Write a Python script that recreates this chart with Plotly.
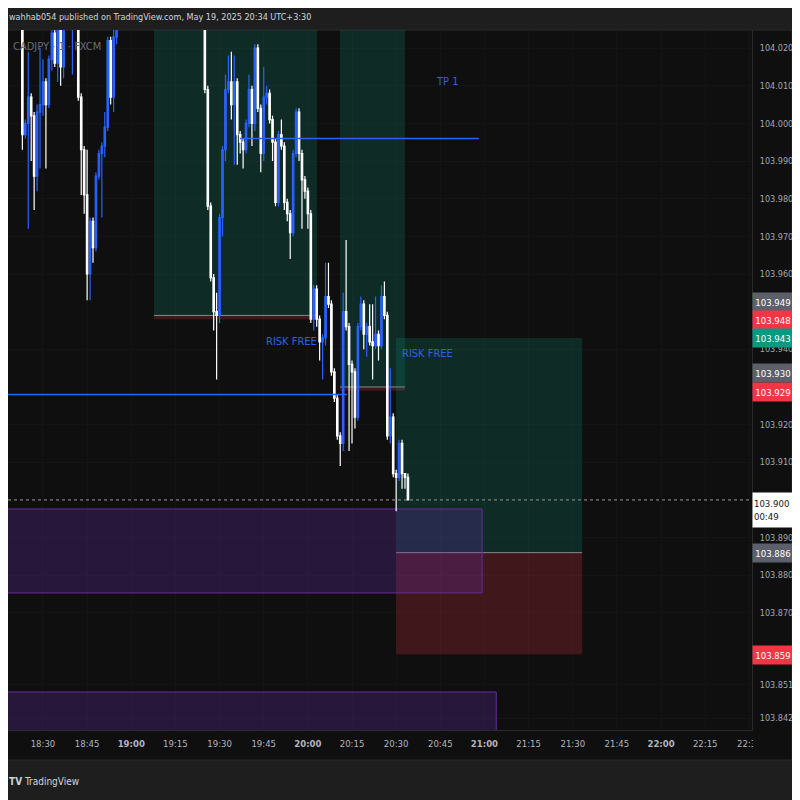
import plotly.graph_objects as go

DAY = "2025-05-19 "

# ---------------- candle data (CADJPY 1-min) ----------------
candle_time = [
    "18:23", "18:24", "18:25", "18:26", "18:27", "18:28", "18:29", "18:30", "18:31", "18:32",
    "18:33", "18:34", "18:35", "18:36", "18:37", "18:40", "18:42", "18:43", "18:44", "18:45",
    "18:46", "18:47", "18:48", "18:49", "18:50", "18:51", "18:52", "18:53", "18:54", "18:55",
    "19:25", "19:26", "19:27", "19:28", "19:29", "19:30", "19:31", "19:32", "19:33", "19:34",
    "19:35", "19:36", "19:37", "19:38", "19:39", "19:40", "19:41", "19:42", "19:43", "19:44",
    "19:45", "19:46", "19:47", "19:48", "19:49", "19:50", "19:51", "19:52", "19:53", "19:54",
    "19:55", "19:56", "19:57", "19:58", "19:59", "20:00", "20:01", "20:02", "20:03", "20:04",
    "20:05", "20:06", "20:07", "20:08", "20:09", "20:10", "20:11", "20:12", "20:13", "20:14",
    "20:15", "20:16", "20:17", "20:18", "20:19", "20:20", "20:21", "20:22", "20:23", "20:24",
    "20:25", "20:26", "20:27", "20:28", "20:29", "20:30", "20:31", "20:32", "20:33", "20:34",
]
open_ = [
    104.028, 103.997, 104.000, 104.007, 104.002, 103.986, 104.003, 104.005, 104.011, 104.005,
    104.017, 104.024, 104.016, 104.025, 104.015, 104.028, 104.029, 104.007, 103.993, 103.981,
    103.960, 103.974, 103.967, 103.986, 103.992, 103.994, 103.999, 104.022, 104.007, 104.023,
    104.031, 104.009, 103.978, 103.959, 103.950, 103.949, 103.975, 103.993, 104.009, 104.011,
    104.005, 104.011, 103.997, 103.995, 103.993, 104.000, 104.009, 104.000, 104.020, 104.004,
    103.992, 104.007, 104.008, 104.001, 103.995, 103.979, 103.997, 103.994, 103.979, 103.976,
    103.971, 103.992, 104.003, 103.992, 103.985, 103.982, 103.976, 103.948, 103.956, 103.948,
    103.942, 103.943, 103.954, 103.952, 103.934, 103.927, 103.917, 103.915, 103.950, 103.946,
    103.936, 103.934, 103.922, 103.946, 103.952, 103.944, 103.946, 103.942, 103.941, 103.944,
    103.941, 103.954, 103.949, 103.917, 103.922, 103.907, 103.906, 103.915, 103.907, 103.906,
]
high = [
    104.030, 104.001, 104.019, 104.008, 104.003, 104.005, 104.020, 104.017, 104.012, 104.018,
    104.028, 104.026, 104.028, 104.028, 104.030, 104.033, 104.030, 104.008, 103.994, 103.993,
    103.975, 103.975, 103.987, 103.993, 103.995, 104.003, 104.023, 104.023, 104.025, 104.031,
    104.033, 104.010, 103.979, 103.960, 103.955, 103.976, 103.994, 104.013, 104.018, 104.019,
    104.018, 104.012, 103.998, 103.996, 104.001, 104.013, 104.010, 104.021, 104.021, 104.005,
    104.015, 104.010, 104.009, 104.002, 103.996, 103.998, 104.001, 103.995, 103.980, 103.977,
    103.993, 104.004, 104.004, 103.993, 103.986, 103.983, 103.977, 103.957, 103.957, 103.949,
    103.944, 103.963, 103.963, 103.953, 103.935, 103.928, 103.918, 103.955, 103.969, 103.947,
    103.937, 103.935, 103.947, 103.954, 103.953, 103.947, 103.952, 103.952, 103.954, 103.945,
    103.957, 103.958, 103.950, 103.935, 103.923, 103.908, 103.916, 103.916, 103.907, 103.907,
]
low = [
    103.993, 103.996, 103.972, 103.990, 103.977, 103.982, 103.988, 104.002, 103.988, 104.004,
    104.014, 104.015, 104.011, 104.010, 104.012, 104.013, 104.006, 103.981, 103.976, 103.953,
    103.953, 103.963, 103.966, 103.985, 103.975, 103.991, 103.998, 104.005, 104.003, 104.021,
    104.008, 103.977, 103.958, 103.945, 103.932, 103.947, 103.970, 103.990, 104.008, 104.001,
    103.989, 103.989, 103.992, 103.988, 103.992, 103.999, 103.994, 103.998, 104.003, 103.987,
    103.990, 104.005, 104.000, 103.990, 103.978, 103.978, 103.993, 103.977, 103.974, 103.964,
    103.970, 103.991, 103.990, 103.972, 103.980, 103.972, 103.947, 103.945, 103.946, 103.937,
    103.932, 103.941, 103.951, 103.933, 103.926, 103.916, 103.909, 103.913, 103.945, 103.913,
    103.915, 103.919, 103.921, 103.945, 103.940, 103.938, 103.941, 103.932, 103.940, 103.937,
    103.940, 103.948, 103.916, 103.915, 103.906, 103.897, 103.905, 103.903, 103.903, 103.900,
]
close = [
    103.997, 104.000, 104.007, 104.002, 103.986, 104.003, 104.005, 104.011, 104.005, 104.017,
    104.024, 104.016, 104.025, 104.015, 104.026, 104.032, 104.007, 103.993, 103.981, 103.960,
    103.974, 103.967, 103.986, 103.992, 103.994, 103.999, 104.022, 104.007, 104.023, 104.029,
    104.009, 103.978, 103.959, 103.950, 103.949, 103.975, 103.993, 104.009, 104.011, 104.005,
    104.011, 103.997, 103.995, 103.993, 104.000, 104.009, 104.000, 104.020, 104.004, 103.992,
    104.007, 104.008, 104.001, 103.995, 103.979, 103.997, 103.994, 103.979, 103.976, 103.971,
    103.992, 104.003, 103.992, 103.985, 103.982, 103.976, 103.948, 103.956, 103.948, 103.942,
    103.943, 103.954, 103.952, 103.934, 103.927, 103.917, 103.915, 103.950, 103.946, 103.936,
    103.934, 103.922, 103.946, 103.952, 103.944, 103.946, 103.942, 103.941, 103.944, 103.941,
    103.954, 103.949, 103.917, 103.922, 103.907, 103.906, 103.915, 103.907, 103.906, 103.900,
]

# ---------------- axes ----------------
x_range = ["18:18:07", "22:30:54"]
y_range = [103.8389, 104.0248]
price_ticks = [104.020, 104.010, 104.000, 103.990, 103.980, 103.970, 103.960, 103.940,
               103.920, 103.910, 103.890, 103.880, 103.870, 103.851, 103.842]
time_ticks = ["18:30", "18:45", "19:00", "19:15", "19:30", "19:45", "20:00", "20:15", "20:30",
              "20:45", "21:00", "21:15", "21:30", "21:45", "22:00", "22:15", "22:30"]

# ---------------- drawings ----------------
# position tools: (start, end, entry, stop, target)
positions = [
    ("19:07:42", "20:03:06", 103.949, 103.948, 104.040),
    ("20:10:54", "20:33:00", 103.930, 103.929, 104.040),
    ("20:30:00", "21:33:12", 103.886, 103.859, 103.943),
]
# purple zones: (start, end, top, bottom)
zones = [
    ("18:00", "20:59:12", 103.8976, 103.8753),
    ("18:00", "21:04:00", 103.8490, 103.8200),
]
# blue horizontal levels: (start, end, price)
levels = [
    ("19:36:54", "20:58:06", 103.996),
    ("18:00", "20:13:18", 103.928),
]
last_price = 103.900
# text notes: (time, price, text, anchor)
notes = [
    ("20:47:18", 104.011, "TP 1", "center"),
    ("19:54:18", 103.942, "RISK FREE", "center"),
    ("20:31:18", 103.939, "RISK FREE", "left"),
]
# price-axis labels: (price, text, bg, fg, yshift)
axis_labels = [
    (103.949, "103.949", "#5d606b", "#ffffff", 13),
    (103.948, "103.948", "#f23645", "#ffffff", -1),
    (103.943, "103.943", "#089981", "#ffffff", 0),
    (103.930, "103.930", "#5d606b", "#ffffff", 14),
    (103.929, "103.929", "#f23645", "#ffffff", -1),
    (103.886, "103.886", "#5d606b", "#ffffff", 0),
    (103.859, "103.859", "#f23645", "#ffffff", -1),
]

FONT = "DejaVu Sans Condensed, Liberation Sans Narrow, Roboto, sans-serif"
BLUE = "#2962ff"

# page pixel -> paper helpers (plot area spans page x 8..752, y 30..730)
def PX(p):
    return (p - 8) / 744.0

def PY(p):
    return (730 - p) / 700.0

def T(t):
    return DAY + t

fig = go.Figure()
fig.add_trace(go.Candlestick(
    x=[T(t) for t in candle_time], open=open_, high=high, low=low, close=close,
    increasing=dict(line=dict(color=BLUE, width=1.2), fillcolor=BLUE),
    decreasing=dict(line=dict(color="#ffffff", width=1.2), fillcolor="#ffffff"),
    whiskerwidth=0, hoverinfo="skip", showlegend=False,
))

shapes = []
# chart panel background (including axes area)
shapes.append(dict(type="rect", xref="paper", yref="paper", x0=PX(7), x1=PX(792), y0=PY(760), y1=PY(30),
                   fillcolor="#0f0f0f", line=dict(color="#2a2a2a", width=1), layer="below"))

for (s, e, entry, stop, target) in positions:
    shapes.append(dict(type="rect", xref="x", yref="y", x0=T(s), x1=T(e), y0=entry, y1=target,
                       fillcolor="rgba(8,153,129,0.2)", line=dict(width=0), layer="between"))
    shapes.append(dict(type="rect", xref="x", yref="y", x0=T(s), x1=T(e), y0=stop, y1=entry,
                       fillcolor="rgba(242,54,69,0.22)", line=dict(width=0), layer="between"))
    shapes.append(dict(type="line", xref="x", yref="y", x0=T(s), x1=T(e), y0=entry, y1=entry,
                       line=dict(color="rgba(160,163,170,0.8)", width=1), layer="between"))

for (s, e, top, bot) in zones:
    shapes.append(dict(type="rect", xref="x", yref="y", x0=T(s), x1=T(e), y0=bot, y1=top,
                       fillcolor="rgba(110,45,180,0.26)", line=dict(color="#6a2c9c", width=1),
                       layer="between"))

for (s, e, p) in levels:
    shapes.append(dict(type="line", xref="x", yref="y", x0=T(s), x1=T(e), y0=p, y1=p,
                       line=dict(color=BLUE, width=1.5), layer="above"))

shapes.append(dict(type="line", xref="paper", yref="y", x0=0, x1=1, y0=last_price, y1=last_price,
                   line=dict(color="#9598a1", width=1, dash="dot"), layer="above"))
# cover corner where time labels would spill into price scale
shapes.append(dict(type="rect", xref="paper", yref="paper", x0=PX(753), x1=PX(791), y0=PY(759), y1=PY(731),
                   fillcolor="#0f0f0f", line=dict(width=0), layer="above"))

annotations = []
for (t, p, txt, anc) in notes:
    annotations.append(dict(x=T(t), y=p, xref="x", yref="y", text=txt, showarrow=False,
                            xanchor=anc, font=dict(family=FONT, size=11, color="#2f62e0")))

for (p, txt, bg, fg, ys) in axis_labels:
    annotations.append(dict(x=1, xref="paper", y=p, yref="y", yshift=ys, text=txt, showarrow=False,
                            xanchor="left", yanchor="middle", bgcolor=bg, width=38, height=16,
                            borderpad=1, align="center", font=dict(family=FONT, size=9.5, color=fg)))
annotations.append(dict(x=1, xref="paper", y=last_price, yref="y", yshift=-10,
                        text="103.900<br>00:49", showarrow=False, xanchor="left", yanchor="middle",
                        bgcolor="#ffffff", width=38, height=32, borderpad=1, align="left",
                        font=dict(family=FONT, size=9.5, color="#131722")))

annotations.append(dict(x=PX(7), y=PY(17), xref="paper", yref="paper", xanchor="left",
                        yanchor="middle", showarrow=False,
                        text="wahhab054 published on TradingView.com, May 19, 2025 20:34 UTC+3:30",
                        font=dict(family=FONT, size=9, color="#d1d4dc")))
annotations.append(dict(x=PX(11), y=PY(47), xref="paper", yref="paper", xanchor="left",
                        yanchor="middle", showarrow=False, text="CADJPY · 1 · FXCM",
                        font=dict(family=FONT, size=11, color="#6a6d78")))
annotations.append(dict(x=PX(7), y=PY(781), xref="paper", yref="paper", xanchor="left",
                        yanchor="middle", showarrow=False,
                        text="<b>TV</b> TradingView",
                        font=dict(family=FONT, size=10, color="#d1d4dc")))

ticktext = []
for t in time_ticks:
    if t.endswith(":00"):
        ticktext.append("<b>" + t + "</b>")
    else:
        ticktext.append(t)

fig.update_layout(
    width=792, height=792,
    margin=dict(l=0, r=48, t=22, b=70, autoexpand=False),
    paper_bgcolor="#1e1e1e", plot_bgcolor="#0f0f0f",
    showlegend=False, shapes=shapes, annotations=annotations,
    font=dict(family=FONT, color="#a3a6af"),
    xaxis=dict(type="date", range=[T(x_range[0]), T(x_range[1])],
               tickvals=[T(t) for t in time_ticks], ticktext=ticktext,
               tickfont=dict(family=FONT, size=9.5, color="#b2b5be"),
               rangeslider=dict(visible=False), showgrid=True, gridcolor="#141414",
               showline=True, linecolor="#2a2a2a", ticks="", zeroline=False,
               ticklabelstandoff=5, fixedrange=True),
    yaxis=dict(side="right", range=y_range, tickvals=price_ticks,
               ticktext=[f"{v:.3f}" for v in price_ticks],
               tickfont=dict(family=FONT, size=9, color="#a3a6af"),
               showgrid=True, gridcolor="#141414", showline=True, linecolor="#2a2a2a",
               ticks="", zeroline=False, ticklabelstandoff=5, fixedrange=True),
)

fig.write_html("out.html")
